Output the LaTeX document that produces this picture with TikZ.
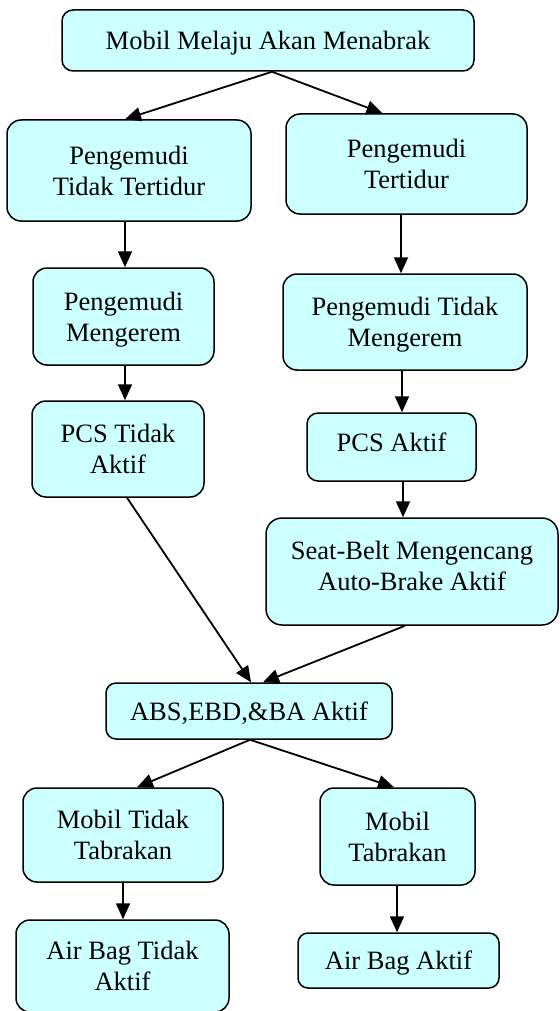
\documentclass[tikz,border=0pt]{standalone}
\usepackage{fontspec}
\setmainfont{Liberation Serif}
\usetikzlibrary{arrows.meta}
\definecolor{boxcyan}{HTML}{CCFFFF}

\begin{document}
\begin{tikzpicture}[x=1pt,y=-1pt,
		box/.style={draw,fill=boxcyan,line width=1.5pt,rounded corners=14pt,inner sep=0pt,align=center,text depth=0pt,font=\fontsize{26.5}{31}\selectfont},
		arr/.style={-{Triangle[length=16pt,width=14pt]},line width=1.8pt}]
		\useasboundingbox (0,0) rectangle (559,1011);

		\node[box,rounded corners=11pt,minimum width=412pt,minimum height=61pt] (m) at (268,40.5) {Mobil Melaju Akan Menabrak};
		\node[box,minimum width=244pt,minimum height=101pt] (tt) at (129,170.5) {Pengemudi\\Tidak Tertidur};
		\node[box,minimum width=241pt,minimum height=100pt] (t) at (406.5,164) {Pengemudi\\Tertidur};

		\node[box,minimum width=181pt,minimum height=97pt] (pm) at (123.5,316.5) {Pengemudi\\Mengerem};
		\node[box,minimum width=244pt,minimum height=96pt] (ptm) at (405,322) {Pengemudi Tidak\\Mengerem};
		\node[box,minimum width=172pt,minimum height=96pt] (pcst) at (118,449) {PCS Tidak\\Aktif};
		\node[box,rounded corners=11pt,text depth=9pt,minimum width=169pt,minimum height=68pt] (pcsa) at (391.5,447) {PCS Aktif};
		\node[box,rounded corners=16pt,text depth=11pt,minimum width=292pt,minimum height=107pt] (sb) at (412,571.5) {Seat-Belt Mengencang\\Auto-Brake Aktif};

		\node[box,rounded corners=10pt,minimum width=286pt,minimum height=56pt] (abs) at (249,711) {ABS,EBD,\&BA Aktif};
		\node[box,minimum width=200pt,minimum height=94pt] (mtt) at (123,835) {Mobil Tidak\\Tabrakan};
		\node[box,minimum width=155pt,minimum height=97pt] (mt) at (397.5,836.5) {Mobil\\Tabrakan};
		\node[box,minimum width=213pt,minimum height=92pt] (abt) at (122.5,966) {Air Bag Tidak\\Aktif};
		\node[box,rounded corners=10pt,minimum width=201pt,minimum height=55pt] (aba) at (398.5,960.5) {Air Bag Aktif};

		\draw[arr] ([xshift=4pt]m.south) -- ([xshift=-4pt]tt.north);
		\draw[arr] ([xshift=4pt]m.south) -- ([xshift=-24pt]t.north);
		\draw[arr] ([xshift=-4pt]tt.south) -- ([xshift=-4pt]tt.south |- pm.north);
		\draw[arr] ([xshift=-5.5pt]t.south) -- ([xshift=-5.5pt]t.south |- ptm.north);
		\draw[arr] ([xshift=1.5pt]pm.south) -- ([xshift=1.5pt]pm.south |- pcst.north);
		\draw[arr] ([xshift=-3pt]ptm.south) -- ([xshift=-3pt]ptm.south |- pcsa.north);
		\draw[arr] ([xshift=11.5pt]pcsa.south) -- ([xshift=11.5pt]pcsa.south |- sb.north);
		\draw[arr] ([xshift=9pt]pcst.south) -- ([xshift=2pt]abs.north);
		\draw[arr] ([xshift=-7pt]sb.south) -- ([xshift=14pt]abs.north);
		\draw[arr] ([xshift=1pt]abs.south) -- ([xshift=14pt]mtt.north);
		\draw[arr] ([xshift=1pt]abs.south) -- ([xshift=-3.5pt]mt.north);
		\draw[arr] (mtt.south) -- (mtt.south |- abt.north);
		\draw[arr] ([xshift=-0.5pt]mt.south) -- ([xshift=-0.5pt]mt.south |- aba.north);
	\end{tikzpicture}
\end{document}
